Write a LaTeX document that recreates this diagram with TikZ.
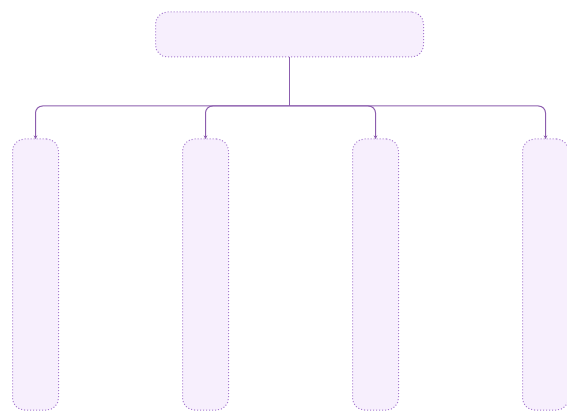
\documentclass[tikz,border=0pt]{standalone}
\usetikzlibrary{positioning,arrows.meta}

\definecolor{boxfill}{HTML}{F7EFFD}
\definecolor{boxline}{HTML}{A77BD0}
\definecolor{linkline}{HTML}{8C5DAE}

\tikzset{
    box/.style={draw=boxline, fill=boxfill, dotted, line width=1pt, rounded corners=12pt, inner sep=0pt, outer sep=0pt},
    topbox/.style={box, minimum width=268pt, minimum height=45pt},
    leafbox/.style={box, minimum width=46pt, minimum height=271pt},
    link/.style={draw=linkline, line width=1pt, rounded corners=7pt, -{Stealth[length=3.5pt,width=3.5pt]}},
}

\begin{document}
\begin{tikzpicture}[x=1pt,y=1pt]
    \useasboundingbox (0,0) rectangle (567,413);

    \node[topbox] (root) at (289.5,378.5) {};
    \node[leafbox] (c1) at (35.5,138.5) {};
    \node[leafbox, right=124pt of c1] (c2) {};
    \node[leafbox, right=124pt of c2] (c3) {};
    \node[leafbox, right=124pt of c3] (c4) {};

    \coordinate (hub) at (root.south |- 0,307);

    \draw[draw=linkline, line width=1pt] (root.south) -- (hub);
    \foreach \c in {c1,c2,c3,c4} {
        \draw[link] (hub) -| (\c.north);
    }
\end{tikzpicture}
\end{document}
